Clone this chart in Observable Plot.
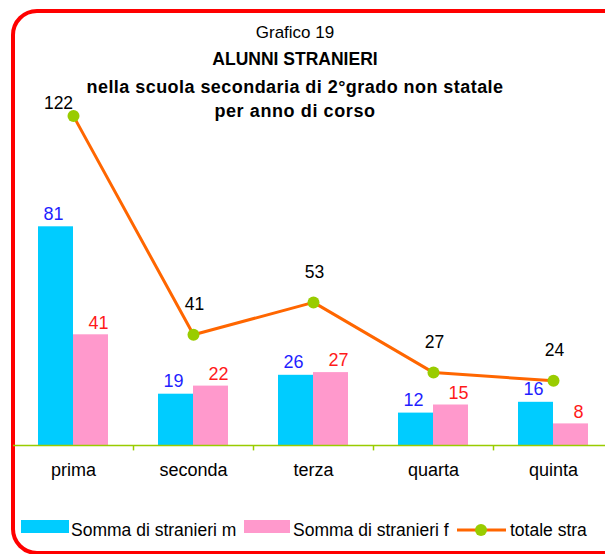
<!DOCTYPE html>
<html><head><meta charset="utf-8">
<script src="https://cdn.jsdelivr.net/npm/d3@7"></script>
<script src="https://cdn.jsdelivr.net/npm/@observablehq/plot@0.6"></script>
<style>
html,body{margin:0;padding:0;background:#fff;overflow:hidden;width:605px;height:554px;}
body{position:relative;font-family:"Liberation Sans",Arial,sans-serif;color:#000;}
#frame{position:absolute;left:11px;top:9px;width:640px;height:546px;border:4px solid #ff0000;border-radius:26px;box-sizing:border-box;}
#chart{position:absolute;left:0;top:0;width:625px;}
.t{position:absolute;left:0;width:590px;text-align:center;font-size:17px;line-height:20px;white-space:nowrap;}
.b{font-weight:bold;font-size:17.5px;}
#legend{position:absolute;top:520px;left:0;height:20px;font-size:17.5px;white-space:nowrap;}
#legend span{position:absolute;top:0;line-height:20px;}
.sw{display:block;position:absolute;height:13px;top:4px;}
</style></head>
<body>
<div id="frame"></div>
<div id="chart"></div>
<div class="t" style="top:23px">Grafico 19</div>
<div class="t b" style="top:49px">ALUNNI STRANIERI</div>
<div class="t b" style="top:77px;font-size:18px;letter-spacing:0.45px">nella scuola secondaria di 2°grado non statale</div>
<div class="t b" style="top:101px;font-size:18px;letter-spacing:0.6px">per anno di corso</div>
<div id="legend"></div>
<script>
const categorie = ["prima", "seconda", "terza", "quarta", "quinta"];
const maschi = [81, 19, 26, 12, 16];
const femmine = [41, 22, 27, 15, 8];
const totale = [122, 41, 53, 27, 24];
const legendaNomi = ["Somma di stranieri m", "Somma di stranieri f", "totale stra"];

const data = categorie.map((c, i) => ({cat: c, m: maschi[i], f: femmine[i], tot: totale[i]}));
const bounds = categorie.slice(1);

const chart = Plot.plot({
  width: 625, height: 500,
  marginLeft: 13, marginRight: 12, marginTop: 94, marginBottom: 55,
  style: {fontFamily: "Liberation Sans, Arial, sans-serif", fontSize: "18px", background: "transparent", overflow: "visible", maxWidth: "none"},
  x: {domain: categorie, padding: 0, label: null, tickSize: 0, tickPadding: 18},
  y: {domain: [0, 130], axis: null},
  marks: [
    Plot.barY(data, {x: "cat", y: "m", fill: "#00CCFF", insetLeft: 25, insetRight: 60}),
    Plot.barY(data, {x: "cat", y: "f", fill: "#FF99CC", insetLeft: 60, insetRight: 25}),
    Plot.ruleY([0], {stroke: "#99CC00", strokeWidth: 1.5}),
    Plot.ruleX(bounds, {x: d => d, dx: -60, y1: 0, y2: -2, stroke: "#99CC00", strokeWidth: 1.5}),
    Plot.text(data, {x: "cat", y: "m", text: d => String(d.m), dx: -20, dy: -13, fill: "#1F1FFF", fontSize: 18}),
    Plot.text(data, {x: "cat", y: "f", text: d => String(d.f), dx: 25, dy: -12, fill: "#FF1A1A", fontSize: 18}),
    Plot.line(data, {x: "cat", y: "tot", stroke: "#FF6600", strokeWidth: 3}),
    Plot.dot(data, {x: "cat", y: "tot", r: 6, fill: "#99CC00", stroke: "none"}),
    Plot.text(data.slice(1), {x: "cat", y: "tot", text: d => String(d.tot), dx: 1, dy: -30, fill: "#000", fontSize: 17.5}),
    Plot.text(data.slice(0, 1), {x: "cat", y: "tot", text: d => String(d.tot), dx: -15, dy: -13, fill: "#000", fontSize: 17.5})
  ]
});
document.getElementById("chart").appendChild(chart);

const lg = document.getElementById("legend");
lg.innerHTML =
  `<span class="sw" style="left:21px;width:48px;background:#00CCFF"></span>` +
  `<span style="left:71px">${legendaNomi[0]}</span>` +
  `<span class="sw" style="left:244px;width:46px;background:#FF99CC"></span>` +
  `<span style="left:293px">${legendaNomi[1]}</span>` +
  `<svg style="position:absolute;left:456px;top:0" width="52" height="20"><line x1="1" y1="10" x2="50" y2="10" stroke="#FF6600" stroke-width="3"/><circle cx="25" cy="10" r="6" fill="#99CC00"/></svg>` +
  `<span style="left:510px">${legendaNomi[2]}</span>`;
</script>
</body></html>
